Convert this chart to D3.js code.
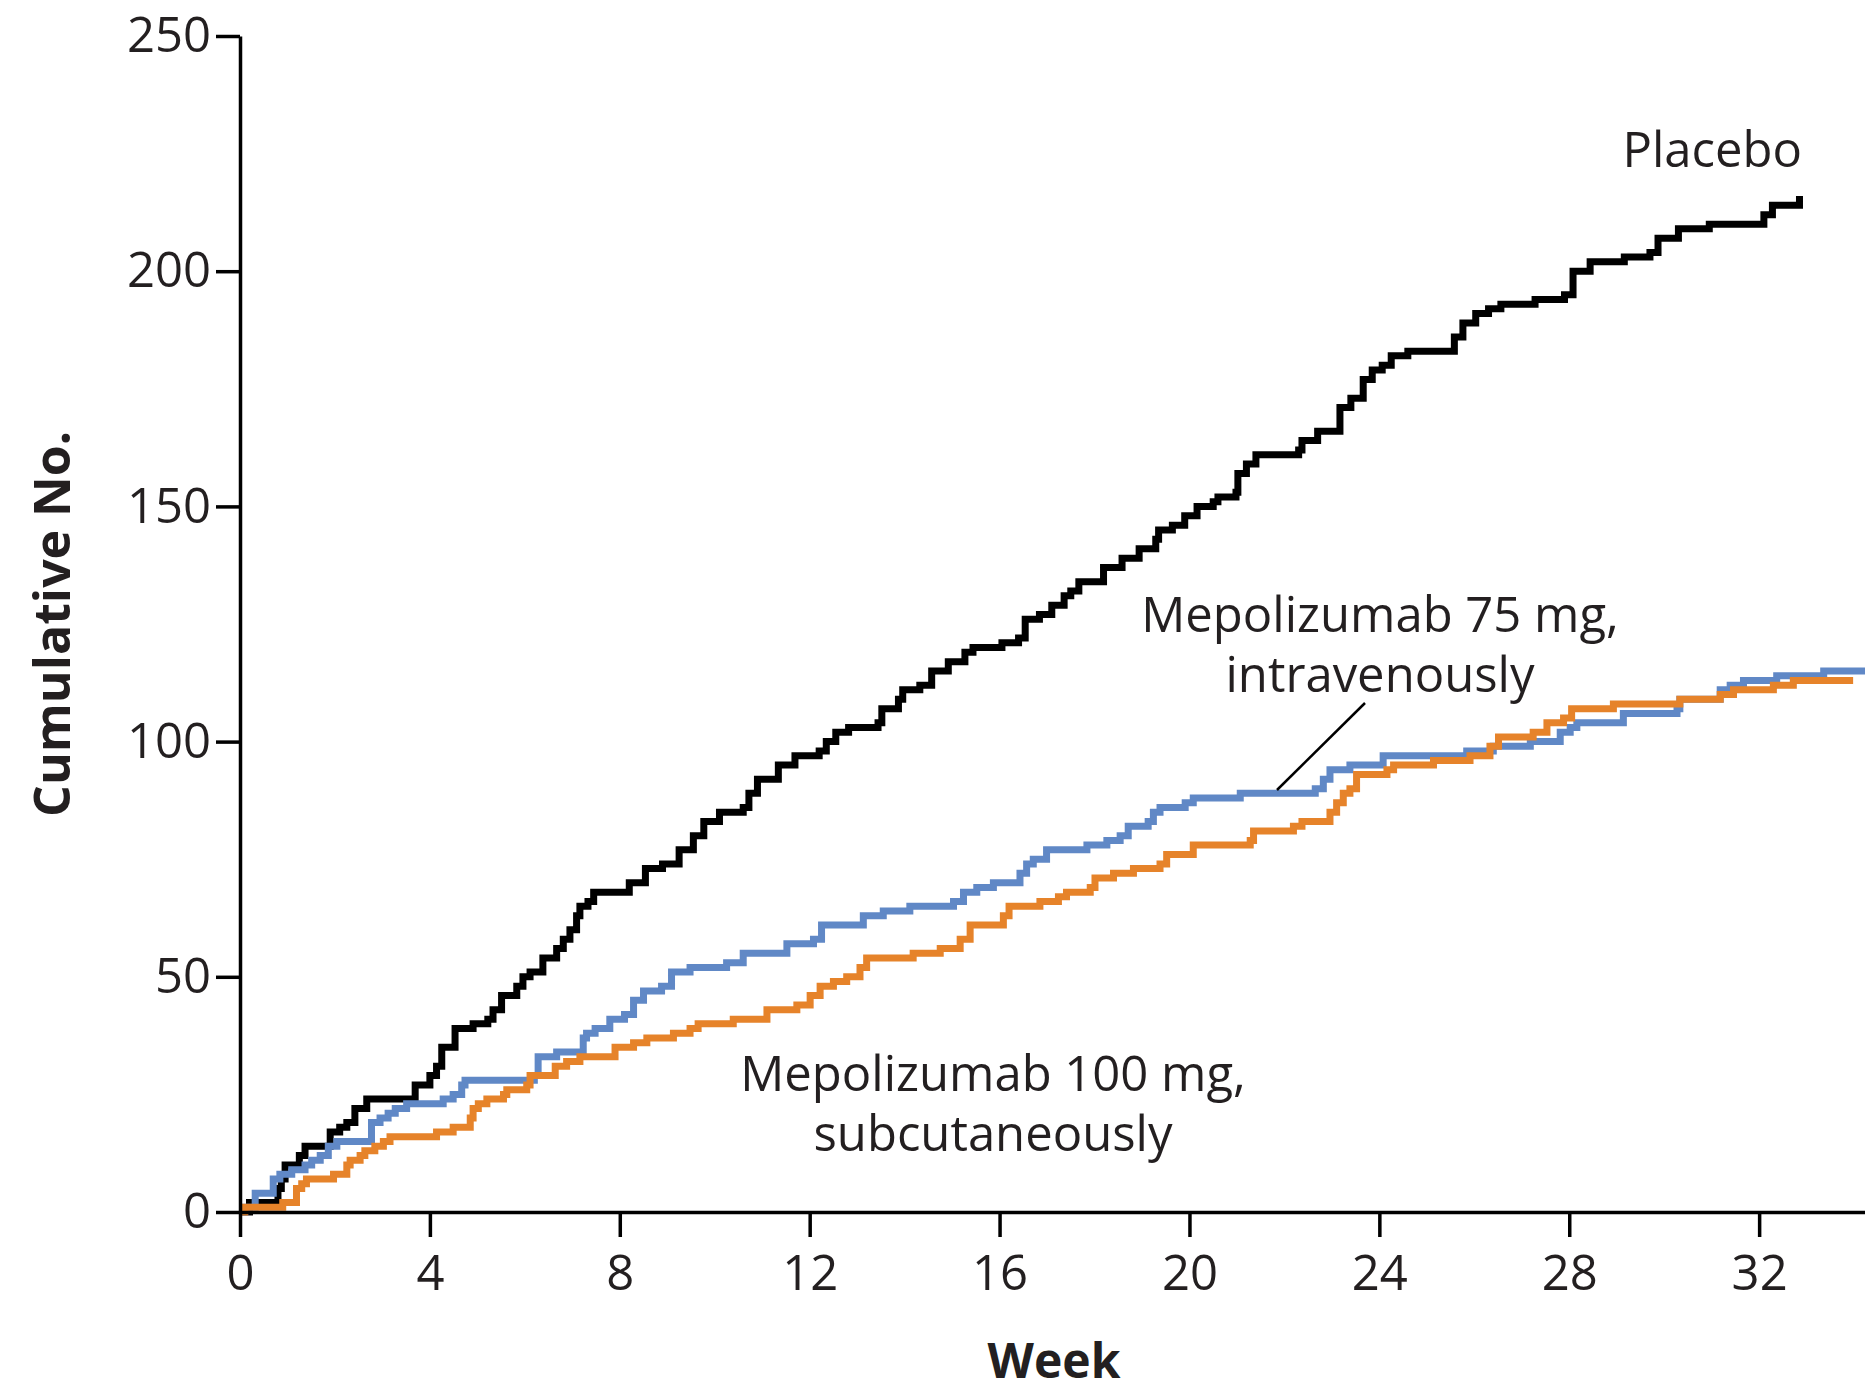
<!DOCTYPE html>
<html>
<head>
<meta charset="utf-8">
<script src="https://cdn.jsdelivr.net/npm/d3@7"></script>
<style>
  html, body { margin: 0; padding: 0; background: #fff; }
  svg { display: block; }
  text { font-family: "Open Sans", "Liberation Sans", sans-serif; fill: #231f20; }
</style>
</head>
<body>
<div id="chart"></div>
<script>
// ── data: [week, cumulative no.] step points ──
var placeboSteps = [
  [0,0],[0.2,2],[0.8,5],[0.87,7],[0.95,10],[1.25,12],[1.37,14],[1.9,17],[2.1,18],[2.25,19],
  [2.42,22],[2.67,24],[3.69,27],[4.0,29],[4.14,31],[4.25,35],[4.53,39],[4.91,40],[5.22,41],
  [5.33,43],[5.51,46],[5.83,48],[5.96,50],[6.11,51],[6.38,54],[6.67,56],[6.81,58],[6.95,60],
  [7.09,63],[7.16,65],[7.33,66],[7.45,68],[8.2,70],[8.54,73],[8.9,74],[9.25,77],[9.55,80],
  [9.77,83],[10.1,85],[10.6,86],[10.72,89],[10.9,92],[11.34,95],[11.69,97],[12.2,98],
  [12.35,100],[12.55,102],[12.82,103],[13.44,104],[13.52,107],[13.87,109],[13.96,111],
  [14.32,112],[14.57,115],[14.92,117],[15.27,119],[15.44,120],[16.05,121],[16.4,122],
  [16.54,126],[16.84,127],[17.1,129],[17.36,131],[17.5,132],[17.67,134],[18.19,137],
  [18.58,139],[18.94,141],[19.29,143],[19.35,145],[19.64,146],[19.9,148],[20.16,150],
  [20.5,151],[20.6,152],[20.98,153],[21.02,157],[21.2,159],[21.4,161],[22.3,162],[22.37,164],
  [22.7,166],[23.17,171],[23.4,173],[23.66,177],[23.85,179],[24.06,180],[24.25,182],
  [24.6,183],[25.58,186],[25.76,189],[26.03,191],[26.3,192],[26.56,193],[27.28,194],
  [27.9,195],[28.08,200],[28.44,202],[29.16,203],[29.7,204],[29.87,207],[30.3,209],
  [30.95,210],[32.1,212],[32.28,214],[32.85,216]
];

var iv75Steps = [
  [0,0],[0.1,1],[0.32,4],[0.7,7],[0.84,8],[1.09,9],[1.37,10],[1.51,11],[1.69,12],[1.86,14],
  [2.04,15],[2.77,19],[2.95,20],[3.12,21],[3.27,22],[3.51,23],[4.28,24],[4.49,25],[4.67,27],
  [4.74,28],[6.2,29],[6.28,33],[6.67,34],[7.23,37],[7.3,38],[7.48,39],[7.79,41],[8.1,42],
  [8.29,45],[8.5,47],[8.88,48],[9.09,51],[9.48,52],[10.25,53],[10.6,55],[11.52,57],
  [12.08,58],[12.25,61],[13.13,63],[13.55,64],[14.11,65],[15.03,66],[15.24,68],[15.52,69],
  [15.87,70],[16.43,72],[16.57,74],[16.71,75],[16.99,77],[17.84,78],[18.26,79],[18.54,80],
  [18.71,82],[19.13,83],[19.24,85],[19.38,86],[19.91,87],[20.08,88],[21.07,89],[22.65,90],
  [22.82,92],[22.96,94],[23.38,95],[24.08,97],[25.84,98],[26.4,99],[27.18,100],[27.81,102],
  [28.02,103],[28.16,104],[29.14,106],[30.27,107],[30.33,109],[31.18,111],[31.39,112],
  [31.67,113],[32.37,114],[33.36,115],[34.3,115]
];

var sc100Steps = [
  [0,0],[0.1,1],[0.9,2],[1.19,5],[1.3,6],[1.4,7],[1.97,8],[2.25,10],[2.32,11],[2.53,12],
  [2.63,13],[2.84,14],[3.02,15],[3.16,16],[4.14,17],[4.49,18],[4.85,20],[4.91,22],[5.02,23],
  [5.2,24],[5.55,25],[5.62,26],[6.04,27],[6.11,29],[6.64,31],[6.88,32],[7.16,33],[7.9,35],
  [8.29,36],[8.57,37],[9.13,38],[9.48,39],[9.65,40],[10.39,41],[11.1,43],[11.73,44],
  [12.01,46],[12.22,48],[12.5,49],[12.78,50],[13.06,52],[13.2,54],[14.18,55],[14.75,56],
  [15.17,58],[15.38,61],[16.08,63],[16.2,65],[16.85,66],[17.24,67],[17.41,68],[17.55,68],
  [17.91,69],[18.01,71],[18.4,72],[18.82,73],[19.38,74],[19.52,76],[20.08,78],[21.28,79],
  [21.35,81],[22.19,82],[22.37,83],[22.96,85],[23.1,87],[23.24,89],[23.38,90],[23.52,93],
  [24.16,94],[24.3,95],[25.14,96],[25.91,97],[26.33,99],[26.51,101],[27.24,102],[27.53,104],
  [27.88,105],[28.05,107],[28.93,108],[30.33,109],[31.18,110],[31.46,111],[32.3,112],
  [32.72,113],[33.98,113]
];

var weekTicks = [0, 4, 8, 12, 16, 20, 24, 28, 32];
var countTicks = [0, 50, 100, 150, 200, 250];

var seriesNames = ['Placebo', 'Mepolizumab 75 mg, intravenously', 'Mepolizumab 100 mg, subcutaneously'];
var seriesColors = ['#000000', '#6088c6', '#e6832a'];

// ── layout ──
var W = 1865, H = 1392;
var svg = d3.select('#chart').append('svg').attr('width', W).attr('height', H);

var x = d3.scaleLinear().domain([0, 34.23]).range([240, 1865]);
var y = d3.scaleLinear().domain([0, 250]).range([1212, 36]);

var line = d3.line()
  .x(function(d) { return x(d[0]); })
  .y(function(d) { return y(d[1]); })
  .curve(d3.curveStepAfter);

// curves (orange drawn last, it sits on top of the blue one)
var series = [placeboSteps, iv75Steps, sc100Steps];
svg.append('g').selectAll('path').data(series).join('path')
  .attr('d', line)
  .attr('fill', 'none')
  .attr('stroke', function(d, i) { return seriesColors[i]; })
  .attr('stroke-width', 7)
  .attr('stroke-linejoin', 'miter');

// axes
var yAxis = svg.append('g').attr('transform', 'translate(240,0)')
  .call(d3.axisLeft(y).tickValues(countTicks).tickSize(24).tickSizeOuter(0).tickPadding(5));
var xAxis = svg.append('g').attr('transform', 'translate(0,1212)')
  .call(d3.axisBottom(x).tickValues(weekTicks).tickSize(25).tickSizeOuter(0).tickPadding(18));

[yAxis, xAxis].forEach(function(a) {
  a.select('.domain').attr('stroke', '#000').attr('stroke-width', 3.5);
  a.selectAll('.tick line').attr('stroke', '#000').attr('stroke-width', 3.5);
  a.selectAll('.tick text')
    .style('font-family', '"Open Sans", sans-serif')
    .style('font-size', '49px').attr('fill', '#231f20');
});

// axis titles
svg.append('text')
  .attr('transform', 'translate(70,624) rotate(-90)')
  .attr('text-anchor', 'middle')
  .style('font-size', '50px').style('font-weight', 'bold')
  .text('Cumulative No.');

svg.append('text')
  .attr('x', 1054).attr('y', 1378)
  .attr('text-anchor', 'middle')
  .style('font-size', '48px').style('font-weight', 'bold')
  .text('Week');

// series labels
function label(lines, cx, by, anchor) {
  var t = svg.append('text').attr('text-anchor', anchor || 'middle')
    .style('font-size', '49px');
  lines.forEach(function(s, i) {
    t.append('tspan').attr('x', cx).attr('y', by + i * 60).text(s);
  });
}
label([seriesNames[0]], 1802, 167, 'end');
label(['Mepolizumab 75 mg,', 'intravenously'], 1380, 632);
label(['Mepolizumab 100 mg,', 'subcutaneously'], 993, 1091);

// leader line for the 75 mg label
svg.append('line')
  .attr('x1', 1365).attr('y1', 703)
  .attr('x2', 1277).attr('y2', 790)
  .attr('stroke', '#000').attr('stroke-width', 2.5);
</script>
</body>
</html>
